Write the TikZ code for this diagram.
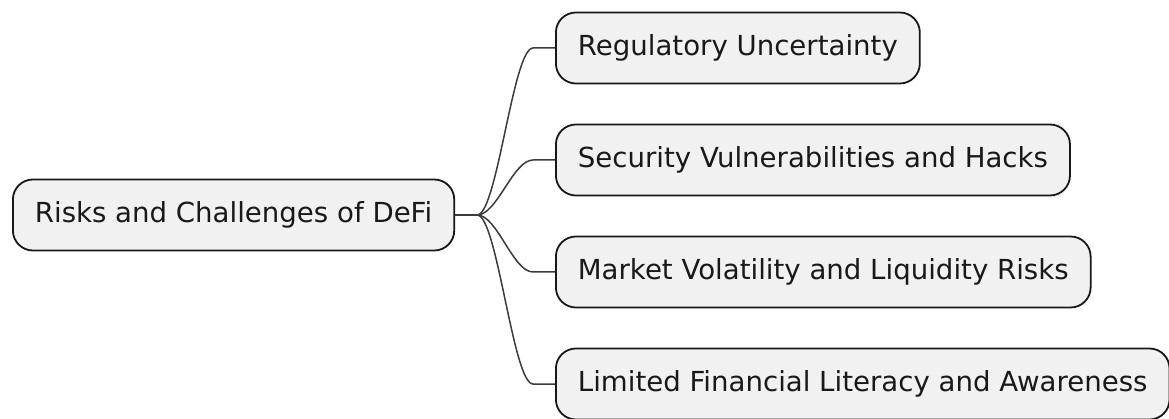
\documentclass[tikz,border=0pt]{standalone}
\usepackage{fontspec}
\setmainfont{DejaVu Sans}
\usepackage{xcolor}
\definecolor{boxFill}{HTML}{F1F1F1}
\definecolor{lineColor}{HTML}{181818}
\usepackage{tikz}
\usetikzlibrary{positioning}
\tikzset{
  topic/.style={draw=lineColor, fill=boxFill, line width=1.8pt, rounded corners=20pt,
    minimum height=71pt, inner xsep=22pt, anchor=west, text=black!90},
  branch/.style={draw=lineColor!85, line width=1.5pt}
}

\begin{document}
\begin{tikzpicture}[x=1pt, y=-1pt, font=\fontsize{27.6}{32}\selectfont]
        \useasboundingbox (0, 0) rectangle (1169, 419);

        % Root (centre y = 215)
        \node[topic] (root) at (12, 215) {Risks and Challenges of DeFi};
        \draw[branch] (root.east) -- ++(22, 0) coordinate (fork);

        % Children (y = 48, 160, 272, 384)
        \node[topic] (c1) at (555, 48) {Regulatory Uncertainty};
        \node[topic] (c2) at (555, 160) {Security Vulnerabilities and Hacks};
        \node[topic] (c3) at (555, 272) {Market Volatility and Liquidity Risks};
        \node[topic] (c4) at (555, 384) {Limited Financial Literacy and Awareness};

        % Branches
        \foreach \c in {c1, c2, c3, c4}
          \draw[branch] (\c.west) -- ++(-22, 0) .. controls +(-20, 0) and +(20, 0) .. (fork);
    \end{tikzpicture}
\end{document}
